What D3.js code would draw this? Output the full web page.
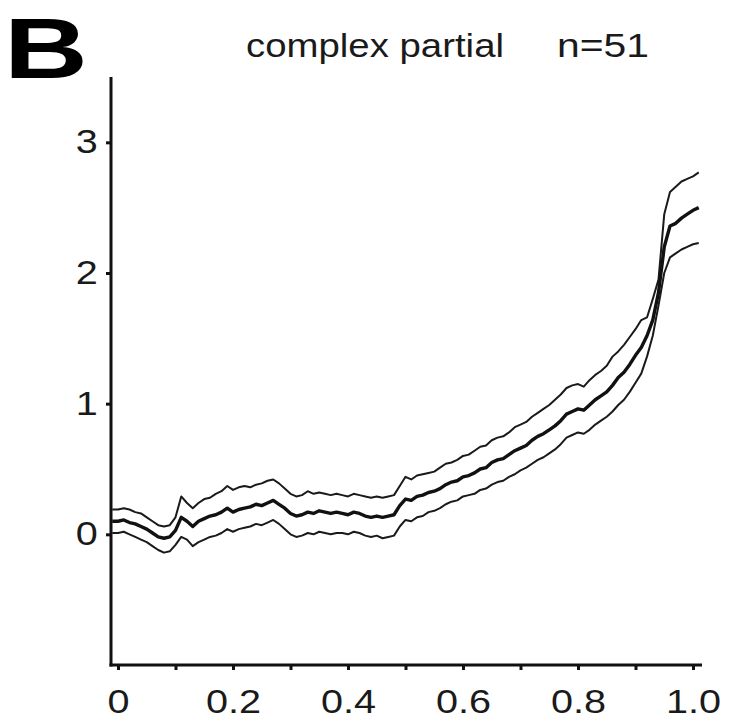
<!DOCTYPE html>
<html>
<head>
  <meta charset="utf-8">
  <title>complex partial</title>
  <style>
    body { margin: 0; background: #fff; }
    text { font-family: "Liberation Sans", Arial, sans-serif; fill: #1a1a1a; }
  </style>
</head>
<body>
  <div id="chart"></div>
  <script src="https://cdn.jsdelivr.net/npm/d3@7/dist/d3.min.js"></script>
  <script type="text/javascript">

  var width = 735, height = 722;

  // x positions of the samples (fraction of the interval)
  var xs = d3.range(-1, 102).map(function(i){ return i / 100; });

  // mean trace
  var meanVals = [
    0.10, 0.10, 0.11, 0.09, 0.08, 0.06, 0.04, 0.01, -0.02, -0.03, -0.02,
    0.03, 0.13, 0.10, 0.06, 0.10, 0.12, 0.14, 0.15, 0.17, 0.20,
    0.17, 0.19, 0.20, 0.21, 0.23, 0.22, 0.24, 0.26, 0.23, 0.20,
    0.16, 0.14, 0.15, 0.17, 0.16, 0.18, 0.17, 0.16, 0.17, 0.16,
    0.15, 0.17, 0.16, 0.14, 0.13, 0.14, 0.13, 0.14, 0.15, 0.22,
    0.27, 0.26, 0.29, 0.30, 0.32, 0.33, 0.35, 0.38, 0.40, 0.41,
    0.44, 0.45, 0.47, 0.50, 0.51, 0.55, 0.57, 0.58, 0.61, 0.64,
    0.66, 0.68, 0.72, 0.75, 0.77, 0.80, 0.83, 0.87, 0.92, 0.94,
    0.96, 0.95, 0.99, 1.03, 1.06, 1.09, 1.14, 1.20, 1.24, 1.30,
    1.37, 1.43, 1.52, 1.64, 1.85, 2.20, 2.36, 2.38, 2.42, 2.45,
    2.48, 2.50
  ];

  // upper bound
  var upperVals = [
    0.19, 0.19, 0.20, 0.19, 0.17, 0.16, 0.13, 0.10, 0.07, 0.06, 0.07,
    0.13, 0.29, 0.24, 0.20, 0.24, 0.27, 0.28, 0.31, 0.33, 0.37,
    0.34, 0.36, 0.37, 0.36, 0.38, 0.39, 0.41, 0.42, 0.39, 0.35,
    0.31, 0.29, 0.30, 0.33, 0.31, 0.32, 0.31, 0.30, 0.31, 0.30,
    0.29, 0.31, 0.30, 0.29, 0.28, 0.29, 0.28, 0.29, 0.30, 0.37,
    0.44, 0.42, 0.45, 0.46, 0.47, 0.48, 0.51, 0.54, 0.55, 0.57,
    0.60, 0.61, 0.64, 0.67, 0.68, 0.72, 0.74, 0.75, 0.78, 0.82,
    0.84, 0.86, 0.90, 0.93, 0.96, 0.99, 1.03, 1.07, 1.12, 1.14,
    1.15, 1.13, 1.18, 1.22, 1.25, 1.29, 1.36, 1.40, 1.45, 1.51,
    1.57, 1.64, 1.66, 1.80, 1.95, 2.45, 2.62, 2.66, 2.70, 2.72,
    2.74, 2.77
  ];

  // lower bound
  var lowerVals = [
    0.01, 0.01, 0.02, 0.00, -0.02, -0.04, -0.06, -0.09, -0.12, -0.14, -0.13,
    -0.08, -0.02, -0.04, -0.09, -0.06, -0.04, -0.02, -0.01, 0.01, 0.04,
    0.02, 0.04, 0.05, 0.06, 0.08, 0.07, 0.09, 0.11, 0.08, 0.04,
    0.00, -0.02, -0.01, 0.01, 0.00, 0.02, 0.01, 0.00, 0.01, 0.01,
    0.00, 0.02, 0.01, -0.01, -0.02, -0.01, -0.03, -0.02, -0.01, 0.06,
    0.11, 0.10, 0.13, 0.14, 0.17, 0.18, 0.20, 0.23, 0.25, 0.26,
    0.29, 0.30, 0.31, 0.34, 0.35, 0.38, 0.40, 0.41, 0.44, 0.46,
    0.49, 0.51, 0.54, 0.57, 0.59, 0.62, 0.65, 0.69, 0.74, 0.76,
    0.78, 0.77, 0.80, 0.84, 0.87, 0.90, 0.94, 0.99, 1.03, 1.09,
    1.16, 1.23, 1.36, 1.52, 1.75, 2.00, 2.12, 2.15, 2.18, 2.20,
    2.22, 2.23
  ];

  var xTicks = [0, 0.1, 0.2, 0.3, 0.4, 0.5, 0.6, 0.7, 0.8, 0.9, 1.0];
  var yTicks = [0, 1, 2, 3];

  var svg = d3.select('#chart')
              .append('svg')
              .attr('width', width)
              .attr('height', height);

  var x = d3.scaleLinear().domain([0, 1]).range([118, 693]);
  var y = d3.scaleLinear().domain([-1, 3.5]).range([665, 77]);

  var axisX = 111; // y axis sits a little left of x=0
  var stretch = 1.2; // the original lettering is wide

  // y axis
  var gy = svg.append('g')
    .attr('transform', 'translate(' + axisX + ',0)')
    .call(d3.axisLeft(y).tickValues(yTicks).tickSize(5).tickSizeOuter(0).tickPadding(6)
      .tickFormat(d3.format('d')));

  // x axis
  var gx = svg.append('g')
    .attr('transform', 'translate(0,665)')
    .call(d3.axisBottom(x).tickValues(xTicks).tickSize(5).tickSizeOuter(0).tickPadding(20)
      .tickFormat(function(d){
        var i = Math.round(d * 10);
        if(i % 2) return '';
        return d === 0 ? '0' : d3.format('.1f')(d);
      }));

  gy.select('.domain').remove();
  gx.select('.domain').remove();

  svg.append('line')
    .attr('x1', axisX).attr('x2', axisX)
    .attr('y1', y(3.5)).attr('y2', y(-1) + 1.5)
    .style('stroke', '#111').style('stroke-width', 3);

  svg.append('line')
    .attr('x1', axisX - 1.5).attr('x2', x(1) + 9)
    .attr('y1', y(-1)).attr('y2', y(-1))
    .style('stroke', '#111').style('stroke-width', 3);

  svg.selectAll('.tick line').style('stroke', '#111').style('stroke-width', 3);
  svg.selectAll('.tick text')
    .attr('transform', 'scale(' + stretch + ',1)')
    .style('font-size', '33px')
    .style('font-family', '"Liberation Sans", Arial, sans-serif')
    .style('fill', '#1a1a1a');

  // traces
  var line = d3.line()
    .x(function(d){ return x(d[0]); })
    .y(function(d){ return y(d[1]); });

  function pairs(vals){
    return xs.map(function(v, i){ return [v, vals[i]]; });
  }

  svg.append('path')
    .datum(pairs(upperVals))
    .attr('d', line)
    .style('fill', 'none').style('stroke', '#1a1a1a').style('stroke-width', 2)
    .style('stroke-linejoin', 'round');

  svg.append('path')
    .datum(pairs(lowerVals))
    .attr('d', line)
    .style('fill', 'none').style('stroke', '#1a1a1a').style('stroke-width', 2)
    .style('stroke-linejoin', 'round');

  svg.append('path')
    .datum(pairs(meanVals))
    .attr('d', line)
    .style('fill', 'none').style('stroke', '#111').style('stroke-width', 3.4)
    .style('stroke-linejoin', 'round');

  // panel letter and title
  svg.append('text')
    .attr('transform', 'translate(4,78) scale(1.35,1)')
    .style('font-size', '86px').style('font-weight', 'bold')
    .style('fill', '#000')
    .text('B');

  svg.append('text')
    .attr('x', 246).attr('y', 57)
    .attr('textLength', 258).attr('lengthAdjust', 'spacingAndGlyphs')
    .style('font-size', '33px')
    .text('complex partial');

  svg.append('text')
    .attr('x', 557).attr('y', 57)
    .attr('textLength', 92).attr('lengthAdjust', 'spacingAndGlyphs')
    .style('font-size', '33px')
    .text('n=51');

  </script>
</body>
</html>
